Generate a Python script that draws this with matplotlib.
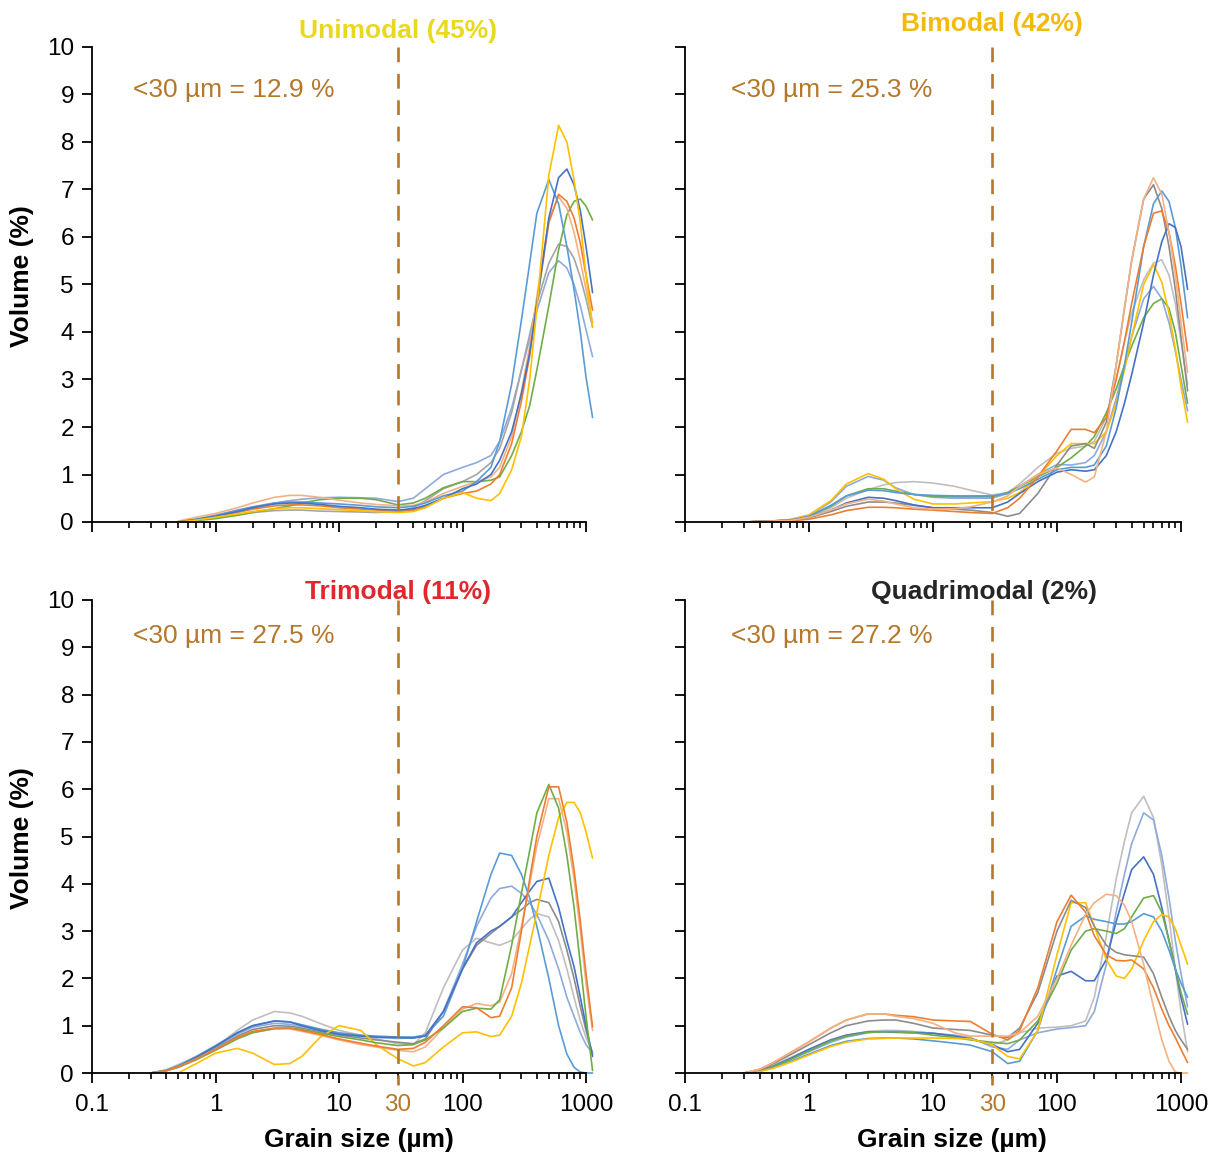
import numpy as np
import matplotlib
matplotlib.use("Agg")
import matplotlib.pyplot as plt
from matplotlib.ticker import FixedLocator, FixedFormatter, LogLocator, NullFormatter

plt.rcParams['font.family'] = ['Liberation Sans', 'DejaVu Sans']

# ---------------- data ----------------
grain_size = [0.3, 0.4, 0.5, 0.7, 1, 1.5, 2, 3, 4, 5, 7, 10, 15, 20, 30, 40, 50, 70,
              100, 130, 170, 200, 250, 300, 350, 400, 500, 600, 700, 800, 900, 1000, 1130]

# Unimodal
uni_yellow = [None, None, 0, 0.04, 0.1, 0.17, 0.22, 0.28, 0.3, 0.3, 0.28, 0.26, 0.24, 0.22, 0.2, 0.22, 0.3, 0.5,
              0.62, 0.5, 0.45, 0.6, 1.1, 1.8, 3.0, 4.5, 7.3, 8.35, 8.0, 7.2, 6.3, 5.2, 4.1]
uni_darkblue = [None, None, 0, 0.05, 0.12, 0.22, 0.3, 0.38, 0.4, 0.4, 0.37, 0.33, 0.3, 0.27, 0.25, 0.28, 0.35, 0.5,
                0.7, 0.8, 1.0, 1.3, 1.9, 2.7, 3.55, 4.6, 6.4, 7.25, 7.43, 7.1, 6.55, 5.8, 4.83]
uni_lightblue = [None, None, 0, 0.06, 0.14, 0.25, 0.32, 0.4, 0.42, 0.42, 0.4, 0.38, 0.35, 0.32, 0.3, 0.33, 0.4, 0.55,
                 0.65, 0.85, 1.15, 1.7, 2.9, 4.25, 5.45, 6.5, 7.21, 6.7, 5.8, 4.9, 4.0, 3.05, 2.2]
uni_orange = [None, None, 0, 0.05, 0.12, 0.2, 0.27, 0.34, 0.36, 0.36, 0.34, 0.3, 0.27, 0.25, 0.22, 0.25, 0.32, 0.5,
              0.6, 0.65, 0.8, 1.0, 1.65, 2.55, 3.5, 4.6, 6.3, 6.9, 6.75, 6.4, 5.87, 5.2, 4.46]
uni_salmon = [None, None, 0.02, 0.1, 0.18, 0.3, 0.4, 0.52, 0.56, 0.56, 0.52, 0.46, 0.4, 0.37, 0.34, 0.35, 0.42, 0.6,
              0.75, 0.85, 0.95, 1.15, 1.8, 2.75, 3.7, 4.75, 6.35, 6.85, 6.6, 6.1, 5.5, 4.9, 4.2]
uni_green = [None, None, 0, 0.03, 0.07, 0.14, 0.2, 0.28, 0.34, 0.4, 0.47, 0.5, 0.5, 0.47, 0.36, 0.4, 0.5, 0.72,
             0.85, 0.85, 0.88, 0.95, 1.4, 1.9, 2.45, 3.2, 4.55, 5.73, 6.47, 6.75, 6.8, 6.65, 6.36]
uni_gray = [None, None, 0, 0.04, 0.09, 0.15, 0.2, 0.24, 0.25, 0.25, 0.23, 0.22, 0.21, 0.2, 0.22, 0.3, 0.45, 0.7,
            0.85, 1.0, 1.25, 1.55, 2.3, 3.2, 3.95, 4.6, 5.45, 5.85, 5.8, 5.55, 5.15, 4.7, 4.1]
uni_bluegray = [None, None, 0, 0.05, 0.12, 0.22, 0.3, 0.4, 0.45, 0.48, 0.51, 0.52, 0.51, 0.5, 0.43, 0.5, 0.7, 1.0,
                1.15, 1.25, 1.4, 1.7, 2.4, 3.2, 3.85, 4.45, 5.25, 5.5, 5.35, 5.0, 4.55, 4.05, 3.48]

# Bimodal
bi_yellow = [0, 0.01, 0.02, 0.05, 0.15, 0.45, 0.8, 1.02, 0.9, 0.7, 0.48, 0.38, 0.38, 0.4, 0.43, 0.5, 0.62, 0.95,
             1.4, 1.65, 1.65, 1.65, 1.9, 2.5, 3.2, 3.9, 5.0, 5.42, 5.05, 4.4, 3.65, 2.85, 2.1]
bi_bluegray = [0, 0.01, 0.02, 0.05, 0.14, 0.42, 0.75, 0.96, 0.88, 0.72, 0.58, 0.52, 0.5, 0.5, 0.5, 0.6, 0.75, 1.0,
               1.21, 1.2, 1.25, 1.4, 1.9, 2.6, 3.3, 3.9, 4.7, 4.96, 4.7, 4.2, 3.6, 3.0, 2.34]
bi_lightgray = [0, 0.01, 0.02, 0.04, 0.12, 0.3, 0.5, 0.68, 0.78, 0.83, 0.85, 0.82, 0.75, 0.67, 0.57, 0.62, 0.8, 1.15,
                1.45, 1.55, 1.6, 1.7, 2.2, 3.0, 3.8, 4.4, 5.1, 5.45, 5.52, 5.2, 4.6, 3.8, 2.9]
bi_green = [0, 0.01, 0.02, 0.04, 0.12, 0.33, 0.55, 0.7, 0.7, 0.65, 0.58, 0.54, 0.53, 0.53, 0.53, 0.62, 0.75, 0.95,
            1.15, 1.35, 1.6, 1.8, 2.3, 2.8, 3.3, 3.7, 4.3, 4.6, 4.7, 4.5, 4.0, 3.3, 2.5]
bi_lightblue = [0, 0.01, 0.02, 0.04, 0.12, 0.35, 0.55, 0.67, 0.66, 0.62, 0.58, 0.56, 0.55, 0.55, 0.55, 0.6, 0.7, 0.9,
                1.1, 1.15, 1.15, 1.2, 1.6, 2.4, 3.3, 4.2, 5.8, 6.7, 6.97, 6.75, 6.2, 5.4, 4.3]
bi_darkblue = [0, 0.01, 0.02, 0.03, 0.1, 0.25, 0.4, 0.52, 0.5, 0.45, 0.36, 0.3, 0.3, 0.3, 0.3, 0.42, 0.6, 0.85,
               1.05, 1.1, 1.07, 1.1, 1.4, 1.9, 2.5, 3.1, 4.2, 5.2, 5.9, 6.28, 6.2, 5.8, 4.9]
bi_salmon = [0, 0.01, 0.02, 0.03, 0.1, 0.25, 0.38, 0.48, 0.44, 0.38, 0.3, 0.27, 0.28, 0.32, 0.42, 0.55, 0.75, 1.0,
             1.14, 1.0, 0.84, 0.95, 1.9, 3.3, 4.5, 5.5, 6.8, 7.25, 6.9, 6.1, 5.2, 4.2, 3.15]
bi_orange = [0, 0.01, 0.01, 0.02, 0.06, 0.15, 0.24, 0.31, 0.31, 0.3, 0.27, 0.25, 0.22, 0.2, 0.18, 0.3, 0.5, 0.95,
             1.5, 1.95, 1.95, 1.88, 2.2, 3.0, 3.8, 4.6, 5.8, 6.5, 6.55, 6.1, 5.4, 4.6, 3.6]
bi_darkgray = [0, 0.01, 0.02, 0.03, 0.09, 0.22, 0.33, 0.42, 0.42, 0.4, 0.35, 0.3, 0.27, 0.25, 0.2, 0.12, 0.18, 0.6,
               1.2, 1.6, 1.65, 1.55, 2.1, 3.3, 4.5, 5.5, 6.8, 7.1, 6.6, 5.8, 4.9, 3.9, 2.76]

# Trimodal
tri_lightblue = [0, 0.06, 0.15, 0.35, 0.58, 0.85, 1.0, 1.1, 1.08, 1.02, 0.93, 0.85, 0.8, 0.78, 0.76, 0.76, 0.8, 1.2,
                 2.2, 3.2, 4.2, 4.65, 4.6, 4.2, 3.7, 3.1, 2.0, 1.0, 0.4, 0.12, 0.02, 0, 0]
tri_bluegray = [0, 0.05, 0.14, 0.33, 0.55, 0.82, 0.97, 1.05, 1.03, 0.98, 0.9, 0.83, 0.78, 0.75, 0.73, 0.74, 0.8, 1.3,
                2.3, 3.1, 3.7, 3.9, 3.95, 3.8, 3.6, 3.35, 2.8, 2.2, 1.6, 1.2, 0.85, 0.6, 0.42]
tri_darkblue = [0, 0.05, 0.14, 0.33, 0.56, 0.85, 1.0, 1.1, 1.08, 1.0, 0.9, 0.82, 0.78, 0.76, 0.75, 0.74, 0.78, 1.3,
                2.2, 2.75, 3.0, 3.1, 3.3, 3.6, 3.85, 4.05, 4.12, 3.5, 2.8, 2.25, 1.6, 1.0, 0.35]
tri_darkgray = [0, 0.05, 0.13, 0.3, 0.52, 0.78, 0.92, 1.0, 0.99, 0.95, 0.88, 0.8, 0.74, 0.7, 0.65, 0.62, 0.72, 1.3,
                2.2, 2.7, 2.95, 3.1, 3.3, 3.45, 3.6, 3.67, 3.6, 3.2, 2.6, 2.0, 1.4, 0.9, 0.4]
tri_lightgray = [0, 0.07, 0.18, 0.35, 0.55, 0.9, 1.12, 1.3, 1.27, 1.2, 1.05, 0.9, 0.8, 0.72, 0.62, 0.6, 0.85, 1.8,
                 2.6, 2.85, 2.75, 2.7, 2.8, 3.05, 3.25, 3.37, 3.3, 2.8, 2.2, 1.6, 1.1, 0.75, 0.45]
tri_green = [0, 0.05, 0.12, 0.28, 0.48, 0.72, 0.85, 0.94, 0.95, 0.92, 0.85, 0.77, 0.7, 0.64, 0.58, 0.6, 0.7, 0.95,
             1.3, 1.37, 1.35, 1.55, 2.7, 3.8, 4.7, 5.5, 6.1, 5.6, 4.6, 3.5, 2.3, 1.2, 0.05]
tri_orange = [0, 0.05, 0.13, 0.3, 0.5, 0.75, 0.88, 0.95, 0.95, 0.9, 0.82, 0.72, 0.63, 0.57, 0.5, 0.52, 0.65, 1.0,
              1.4, 1.38, 1.17, 1.2, 1.8, 3.0, 4.1, 5.0, 6.05, 6.05, 5.3, 4.3, 3.2, 2.1, 0.98]
tri_salmon = [0, 0.05, 0.13, 0.3, 0.5, 0.74, 0.86, 0.93, 0.93, 0.88, 0.8, 0.7, 0.6, 0.55, 0.48, 0.45, 0.55, 0.95,
              1.35, 1.47, 1.42, 1.5, 2.1, 3.1, 4.0, 4.8, 5.8, 5.8, 5.1, 4.1, 3.0, 1.9, 0.9]
tri_yellow = [None, None, 0, 0.2, 0.42, 0.52, 0.42, 0.18, 0.2, 0.35, 0.75, 1.0, 0.9, 0.6, 0.3, 0.15, 0.22, 0.55,
              0.85, 0.87, 0.77, 0.8, 1.2, 1.9, 2.7, 3.4, 4.6, 5.4, 5.72, 5.72, 5.5, 5.1, 4.54]

# Quadrimodal
quad_lightgray = [0, 0.06, 0.15, 0.32, 0.5, 0.7, 0.8, 0.88, 0.9, 0.9, 0.88, 0.84, 0.78, 0.72, 0.6, 0.7, 0.85, 0.95,
                  0.97, 1.0, 1.1, 1.6, 2.9, 4.1, 4.9, 5.5, 5.85, 5.4, 4.4, 3.3, 2.2, 1.3, 0.45]
quad_bluegray = [0, 0.05, 0.12, 0.28, 0.45, 0.65, 0.76, 0.85, 0.88, 0.88, 0.87, 0.84, 0.8, 0.75, 0.55, 0.5, 0.7, 0.85,
                 0.93, 0.96, 1.0, 1.3, 2.3, 3.4, 4.2, 4.85, 5.5, 5.35, 4.6, 3.7, 2.8, 2.1, 1.4]
quad_darkblue = [0, 0.05, 0.13, 0.3, 0.5, 0.7, 0.8, 0.87, 0.87, 0.86, 0.85, 0.84, 0.78, 0.72, 0.6, 0.45, 0.5, 1.05,
                 2.05, 2.15, 1.95, 1.95, 2.4, 3.2, 3.8, 4.3, 4.57, 4.2, 3.5, 2.8, 2.2, 1.6, 1.03]
quad_green = [0, 0.04, 0.12, 0.28, 0.47, 0.68, 0.78, 0.86, 0.87, 0.87, 0.85, 0.8, 0.75, 0.7, 0.65, 0.62, 0.7, 1.1,
              1.9, 2.6, 3.0, 3.05, 3.0, 2.95, 3.05, 3.3, 3.7, 3.75, 3.4, 2.8, 2.2, 1.7, 1.24]
quad_lightblue = [0, 0.04, 0.1, 0.24, 0.4, 0.58, 0.67, 0.73, 0.74, 0.74, 0.72, 0.68, 0.63, 0.59, 0.45, 0.2, 0.25, 0.9,
                  2.2, 3.1, 3.32, 3.25, 3.2, 3.15, 3.15, 3.2, 3.37, 3.3, 3.0, 2.6, 2.2, 1.9, 1.6]
quad_yellow = [0, 0.03, 0.09, 0.22, 0.38, 0.56, 0.65, 0.72, 0.73, 0.74, 0.74, 0.74, 0.73, 0.72, 0.6, 0.35, 0.3, 0.9,
               2.5, 3.6, 3.6, 3.1, 2.4, 2.05, 2.0, 2.2, 2.8, 3.2, 3.35, 3.3, 3.05, 2.7, 2.3]
quad_orange = [0, 0.08, 0.2, 0.42, 0.66, 0.95, 1.12, 1.25, 1.25, 1.22, 1.19, 1.12, 1.1, 1.09, 0.82, 0.7, 0.9, 1.8,
               3.2, 3.76, 3.4, 2.9, 2.5, 2.38, 2.37, 2.39, 2.2, 1.8, 1.35, 1.0, 0.75, 0.5, 0.22]
quad_darkgray = [0, 0.07, 0.18, 0.38, 0.6, 0.85, 1.0, 1.1, 1.12, 1.12, 1.05, 0.95, 0.92, 0.9, 0.8, 0.75, 0.95, 1.7,
                 3.0, 3.65, 3.5, 3.1, 2.7, 2.55, 2.5, 2.48, 2.45, 2.1, 1.6, 1.2, 0.9, 0.7, 0.5]
quad_salmon = [0, 0.08, 0.2, 0.42, 0.66, 0.95, 1.12, 1.25, 1.25, 1.2, 1.15, 1.05, 0.85, 0.78, 0.78, 0.78, 0.85, 1.2,
               2.0, 2.7, 3.35, 3.6, 3.78, 3.75, 3.55, 3.2, 2.3, 1.4, 0.7, 0.25, 0.02, 0, 0]

panel_titles = ["Unimodal (45%)", "Bimodal (42%)", "Trimodal (11%)", "Quadrimodal (2%)"]
fines_texts = ["<30 µm = 12.9 %", "<30 µm = 25.3 %", "<30 µm = 27.5 %", "<30 µm = 27.2 %"]
x_tick_values = [0.1, 1, 10, 100, 1000]
x_tick_labels = ["0.1", "1", "10", "100", "1000"]
cutoff = 30

# ---------------- styles ----------------
C_LB = '#5B9BD5'; C_DB = '#4472C4'; C_BG = '#8FAADC'
C_OR = '#ED7D31'; C_SA = '#F4B183'; C_YE = '#FFC000'
C_GR = '#70AD47'; C_GY = '#A5A5A5'; C_LG = '#BFBFBF'; C_DG = '#8C8C8C'
BROWN = '#B5772A'

panels = [
    [(uni_bluegray, C_BG), (uni_gray, C_GY), (uni_green, C_GR), (uni_salmon, C_SA), (uni_orange, C_OR),
     (uni_lightblue, C_LB), (uni_darkblue, C_DB), (uni_yellow, C_YE)],
    [(bi_lightgray, C_LG), (bi_bluegray, C_BG), (bi_green, C_GR), (bi_yellow, C_YE), (bi_darkgray, C_DG),
     (bi_lightblue, C_LB), (bi_darkblue, C_DB), (bi_orange, C_OR), (bi_salmon, C_SA)],
    [(tri_lightgray, C_LG), (tri_darkgray, C_DG), (tri_bluegray, C_BG), (tri_lightblue, C_LB), (tri_darkblue, C_DB),
     (tri_yellow, C_YE), (tri_salmon, C_SA), (tri_green, C_GR), (tri_orange, C_OR)],
    [(quad_lightgray, C_LG), (quad_bluegray, C_BG), (quad_darkblue, C_DB), (quad_green, C_GR), (quad_lightblue, C_LB),
     (quad_yellow, C_YE), (quad_darkgray, C_DG), (quad_orange, C_OR), (quad_salmon, C_SA)],
]
title_colors = ['#E9D91E', '#F4B90E', '#E2262B', '#262626']
title_pos = [(30, 10.34), (30, 10.48), (30, 10.16), (26, 10.16)]
text_pos = [(0.215, 9.1), (0.235, 9.1), (0.215, 9.24), (0.235, 9.24)]

W, H = 1228, 1160
fig = plt.figure(figsize=(W / 100, H / 100), dpi=100)
fig.patch.set_facecolor('white')
rects = [
    [92 / W, (H - 522) / H, 494 / W, 475 / H],
    [685 / W, (H - 522) / H, 496 / W, 475 / H],
    [92 / W, (H - 1073) / H, 494 / W, 473 / H],
    [685 / W, (H - 1073) / H, 496 / W, 473 / H],
]

x = np.array(grain_size, dtype=float)
for i, (rect, series) in enumerate(zip(rects, panels)):
    ax = fig.add_axes(rect)
    ax.set_xscale('log')
    ax.set_xlim(0.1, 1000)
    ax.set_ylim(0, 10)
    for vals, col in series:
        y = np.array(vals, dtype=float)
        ax.plot(x, y, color=col, lw=1.2, clip_on=False, zorder=2,
                solid_capstyle='round', solid_joinstyle='round')
    ybot = -0.25 if i >= 2 else 0
    ax.plot([cutoff, cutoff], [10, ybot], color=BROWN, lw=1.9, dashes=(5.6, 4.4),
            clip_on=False, zorder=3)
    for s in ['top', 'right']:
        ax.spines[s].set_visible(False)
    for s in ['left', 'bottom']:
        ax.spines[s].set_linewidth(1.3)
    ax.xaxis.set_major_locator(FixedLocator(x_tick_values))
    ax.xaxis.set_major_formatter(FixedFormatter(x_tick_labels))
    ax.xaxis.set_minor_locator(LogLocator(base=10, subs=np.arange(2, 10), numticks=20))
    ax.xaxis.set_minor_formatter(NullFormatter())
    ax.set_yticks(np.arange(0, 11, 1))
    ax.tick_params(axis='both', which='major', direction='out', length=7, width=1.3,
                   labelsize=17.5, pad=6, color='black')
    ax.tick_params(axis='x', which='major', pad=8)
    ax.tick_params(axis='x', which='minor', direction='out', length=4.3, width=1.2)
    if i < 2:
        ax.tick_params(axis='x', which='both', labelbottom=False)
    else:
        ax.annotate(str(cutoff), xy=(cutoff, 0), xycoords=('data', 'axes fraction'),
                    xytext=(0, -15), textcoords='offset points', ha='center', va='top',
                    fontsize=17.5, color=BROWN)
    if i % 2 == 1:
        ax.tick_params(axis='y', which='both', labelleft=False)
    ax.set_facecolor('none')
    tx, ty = title_pos[i]
    ax.text(tx, ty, panel_titles[i], ha='center', va='center', fontsize=19, fontweight='bold',
            color=title_colors[i], clip_on=False)
    px, py = text_pos[i]
    ax.text(px, py, fines_texts[i], ha='left', va='center', fontsize=19, color=BROWN)

fig.text(22 / W, 1 - 276 / H, 'Volume (%)', rotation=90, ha='center', va='center',
         fontsize=19, fontweight='bold')
fig.text(22 / W, 1 - 838 / H, 'Volume (%)', rotation=90, ha='center', va='center',
         fontsize=19, fontweight='bold')
fig.text(359 / W, 1 - 1140 / H, 'Grain size (µm)', ha='center', va='center',
         fontsize=19, fontweight='bold')
fig.text(952 / W, 1 - 1140 / H, 'Grain size (µm)', ha='center', va='center',
         fontsize=19, fontweight='bold')

fig.savefig('out.png', dpi=100, facecolor='white')
